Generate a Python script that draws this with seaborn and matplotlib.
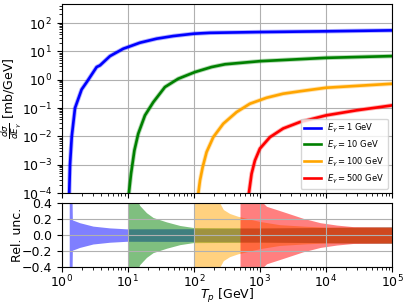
#!/usr/bin/env python3
"""Gamma-ray production cross section vs proton kinetic energy, with relative uncertainty panel."""

import matplotlib

matplotlib.use("Agg")
import matplotlib.pyplot as plt
import seaborn as sns

# --- cross section curves (Tp in GeV, dsigma/dE in mb/GeV) ---
tp_1 = [1.30, 1.336, 1.42, 1.59, 2.0, 2.39, 3.38, 3.8, 5.38, 8.55, 10, 15.3, 27.4, 48.8, 100, 175, 1000, 1e4, 1e5]
xs_1 = [1e-4, 1e-3, 1e-2, 0.1, 0.45, 0.82, 2.8, 3.2, 6.8, 12.4, 14.1, 20.2, 28, 34.7, 42, 45, 48, 51, 55]

tp_10 = [10.4, 11.2, 12.6, 14.4, 18.2, 24.3, 36.5, 58, 104, 186, 296, 1000, 1e4, 1e5]
xs_10 = [1e-4, 4.8e-4, 3.2e-3, 0.0124, 0.055, 0.16, 0.55, 1.08, 1.86, 2.8, 3.5, 4.5, 5.9, 6.8]

tp_100 = [117, 124, 136, 156, 197, 279, 444, 706, 1260, 2240, 4030, 1e4, 1e5]
xs_100 = [1e-4, 2.8e-4, 8.2e-4, 2.8e-3, 9.4e-3, 0.028, 0.072, 0.142, 0.23, 0.32, 0.39, 0.52, 0.72]

tp_500 = [682, 748, 840, 1000, 1420, 2250, 4030, 1e4, 29000, 1e5]
xs_500 = [1e-4, 4.8e-4, 1.4e-3, 3.7e-3, 9.4e-3, 0.019, 0.032, 0.055, 0.083, 0.124]

# --- relative uncertainty (half width of the band) ---
rtp_1 = [1.30, 1.40, 1.45, 1.87, 2.98, 5.3, 9.6, 100, 1000, 1e4, 1e5]
rel_1 = [1.0, 1.0, 0.19, 0.155, 0.112, 0.09, 0.078, 0.08, 0.085, 0.095, 0.1]

rtp_10 = [10, 13.8, 15.2, 19.2, 24.2, 38.6, 61.6, 97.6, 1000, 1e4, 1e5]
rel_10 = [1.0, 0.45, 0.37, 0.28, 0.22, 0.165, 0.12, 0.095, 0.09, 0.095, 0.1]

rtp_100 = [100, 240, 280, 350, 465, 700, 1000, 2000, 5000, 1e4, 1e5]
rel_100 = [1.0, 0.42, 0.32, 0.27, 0.235, 0.2, 0.17, 0.13, 0.11, 0.1, 0.1]

rtp_500 = [500, 1060, 1260, 1780, 2500, 4500, 8200, 14600, 26000, 1e5]
rel_500 = [1.0, 0.42, 0.36, 0.32, 0.28, 0.21, 0.155, 0.125, 0.105, 0.1]

labels = [r"$E_\gamma = 1$ GeV", r"$E_\gamma = 10$ GeV", r"$E_\gamma = 100$ GeV", r"$E_\gamma = 500$ GeV"]
colors = ["blue", "green", "orange", "red"]

curves = [(tp_1, xs_1), (tp_10, xs_10), (tp_100, xs_100), (tp_500, xs_500)]
bands = [(rtp_1, rel_1), (rtp_10, rel_10), (rtp_100, rel_100), (rtp_500, rel_500)]


def main() -> None:
    plt.rcParams["font.family"] = ["DejaVu Sans"]
    fig = plt.figure(figsize=(4.07, 3.05), dpi=100)
    ax = fig.add_axes([0.1516, 0.367, 0.8116, 0.620])
    ax_r = fig.add_axes([0.1516, 0.1246, 0.8116, 0.2094], sharex=ax)

    for (tp, xs), col, lab in zip(curves, colors, labels):
        # faint halo standing in for the uncertainty band around each curve
        ax.plot(tp, xs, color=col, lw=3.2, alpha=0.3)
        sns.lineplot(x=tp, y=xs, ax=ax, color=col, lw=1.9, label=lab, sort=False)

    for (tp, rel), col in zip(bands, colors):
        lo = [-r for r in rel]
        ax_r.fill_between(tp, lo, rel, color=col, alpha=0.5, lw=0)

    ax.set_xscale("log")
    ax.set_yscale("log")
    ax.set_xlim(1, 1e5)
    ax.set_ylim(1e-4, 470)
    ax.set_ylabel(r"$\frac{d\sigma}{dE_\gamma}$ [mb/GeV]", fontsize=9)
    ax.yaxis.set_label_coords(-0.117, 0.5)
    ax.grid(True, which="major", color="#b0b0b0", lw=0.8)
    ax.tick_params(labelsize=9)
    plt.setp(ax.get_xticklabels(), visible=False)
    ax.legend(loc="lower right", fontsize=6, handlelength=2.0, borderpad=0.4, labelspacing=0.45)

    ax_r.set_ylim(-0.4, 0.4)
    ax_r.set_yticks([-0.4, -0.2, 0.0, 0.2, 0.4])
    ax_r.set_ylabel("Rel. unc.", fontsize=9)
    ax_r.yaxis.set_label_coords(-0.115, 0.5)
    ax_r.set_xlabel(r"$T_p$ [GeV]", fontsize=9)
    ax_r.xaxis.set_label_coords(0.5, -0.31)
    ax_r.grid(True, which="major", color="#b0b0b0", lw=0.8)
    ax_r.tick_params(labelsize=9)
    ax_r.tick_params(axis="x", pad=1.5)

    fig.savefig("out.png", dpi=100)


if __name__ == "__main__":
    main()
